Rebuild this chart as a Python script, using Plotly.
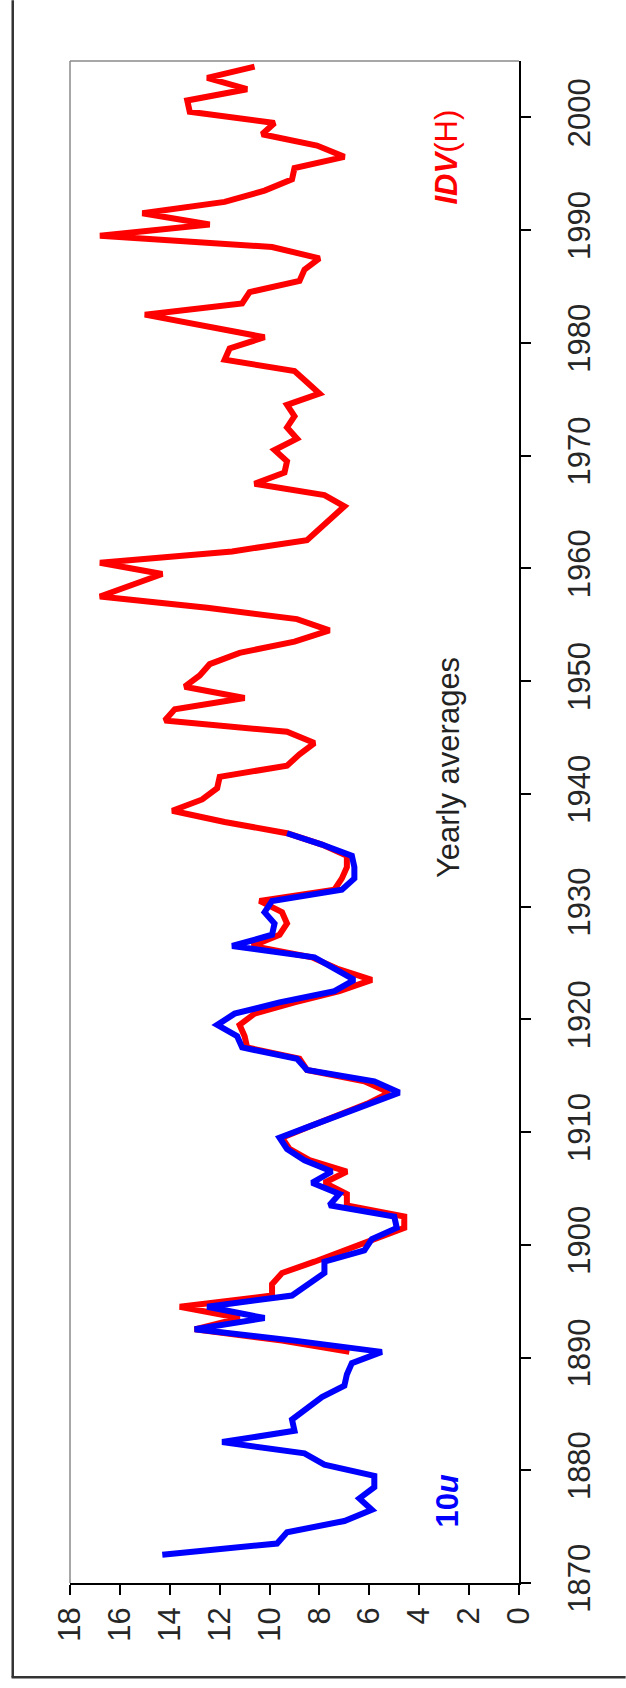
import plotly.graph_objects as go

# ---- data -------------------------------------------------------------
blue_start = 1872  # 10u series, yearly averages (plotted at mid-year)
blue_vals = [14.3, 9.7, 9.3, 7.0, 5.9, 6.4, 5.8, 5.8, 7.8, 8.6,
             11.9, 9.0, 9.1, 8.5, 7.9, 7.0, 6.9, 6.7, 5.5, 9.0,
             13.0, 10.2, 12.5, 9.1, 8.4, 7.8, 7.8, 6.2, 5.9, 4.9,
             5.0, 7.6, 7.2, 8.3, 7.5, 8.6, 9.3, 9.6, 8.4, 7.2,
             6.0, 4.8, 5.8, 8.5, 8.9, 11.1, 11.3, 12.1, 11.4, 9.6,
             7.4, 6.6, 7.4, 8.2, 11.5, 9.9, 9.8, 10.2, 9.9, 7.1,
             6.6, 6.6, 6.7, 7.9, 9.3]

red_start = 1890  # IDV(H) series
red_vals = [6.8, 9.5, 13.0, 11.2, 13.6, 9.9, 9.9, 9.5, 8.2, 7.0,
            5.9, 4.6, 4.6, 6.9, 6.9, 7.8, 6.9, 8.4, 9.2, 9.5,
            8.4, 7.2, 6.1, 5.2, 6.2, 8.5, 8.8, 10.9, 11.0, 11.2,
            10.6, 9.0, 7.2, 5.9, 7.3, 8.3, 10.7, 9.6, 9.3, 9.5,
            10.4, 7.4, 7.1, 6.9, 6.9, 7.9, 9.3, 11.8, 13.9, 12.7,
            12.1, 12.0, 9.3, 8.8, 8.2, 9.3, 14.2, 13.8, 11.0, 13.4,
            12.8, 12.4, 11.2, 9.0, 7.6, 8.9, 12.5, 16.8, 15.5, 14.3,
            16.8, 11.5, 8.5, 8.0, 7.5, 7.0, 7.8, 10.6, 9.4, 9.3,
            9.8, 8.9, 9.3, 9.0, 9.3, 8.0, 8.5, 9.0, 11.8, 11.6,
            10.2, 12.7, 15.0, 11.1, 10.8, 8.8, 8.6, 8.0, 9.9, 16.8,
            12.4, 15.1, 11.8, 10.2, 9.1, 9.0, 7.0, 8.1, 10.3, 9.8,
            13.2, 13.3, 10.9, 12.5, 10.6]

blue_years = [blue_start + i + 0.5 for i in range(len(blue_vals))]
red_years = [red_start + i + 0.5 for i in range(len(red_vals))]

value_ticks = [0, 2, 4, 6, 8, 10, 12, 14, 16, 18]
year_ticks = [1870, 1880, 1890, 1900, 1910, 1920, 1930, 1940, 1950,
              1960, 1970, 1980, 1990, 2000]

# ---- figure -----------------------------------------------------------
W, H = 626, 1688
L, R, T, B = 70, 519.3, 60.7, 1582.7
FONT = "Liberation Sans, Arial, sans-serif"

fig = go.Figure()
fig.add_trace(go.Scatter(x=red_vals, y=red_years, mode="lines",
                         line=dict(color="#ff0000", width=6),
                         name="IDV(H)"))
fig.add_trace(go.Scatter(x=blue_vals, y=blue_years, mode="lines",
                         line=dict(color="#0000ff", width=6),
                         name="10u"))

axis_common = dict(showgrid=False, zeroline=False, showline=True,
                   linecolor="black", linewidth=1.5, ticks="outside",
                   ticklen=10, tickwidth=1.5, tickcolor="black",
                   tickangle=-90,
                   tickfont=dict(family=FONT, size=31, color="#262626"))

fig.update_xaxes(range=[18, 0], tickvals=value_ticks,
                 ticktext=[str(v) for v in value_ticks], **axis_common)
fig.update_yaxes(range=[1870, 2005], tickvals=year_ticks, side="right",
                 ticklabelstandoff=22, **axis_common)

pw, ph = R - L, B - T
def px(x):
    return (x - L) / pw
def py(y):
    return (B - y) / ph

shapes = [
    # gray frame top & left
    dict(type="line", xref="paper", yref="paper", x0=0, x1=1, y0=1, y1=1,
         line=dict(color="#8a8a8a", width=1.5)),
    dict(type="line", xref="paper", yref="paper", x0=0, x1=0, y0=0, y1=1,
         line=dict(color="#8a8a8a", width=1.5)),
    # outer frame (left & bottom)
    dict(type="line", xref="paper", yref="paper", x0=px(12.7), x1=px(12.7),
         y0=py(0), y1=py(1677), line=dict(color="#333", width=2.5)),
    dict(type="line", xref="paper", yref="paper", x0=px(11.5), x1=px(626),
         y0=py(1677), y1=py(1677), line=dict(color="#333", width=2.5)),
]

annotations = [
    dict(x=2.9, y=1996.5, xref="x", yref="y", showarrow=False,
         text="<b><i>IDV</i></b>(H)", textangle=-90,
         font=dict(family=FONT, size=31, color="#ff0000")),
    dict(x=2.8, y=1942.3, xref="x", yref="y", showarrow=False,
         text="Yearly averages", textangle=-90,
         font=dict(family=FONT, size=31, color="#222")),
    dict(x=2.85, y=1877.3, xref="x", yref="y", showarrow=False,
         text="<b>10<i>u</i></b>", textangle=-90,
         font=dict(family=FONT, size=31, color="#0000ff")),
]

fig.update_layout(width=W, height=H,
                  margin=dict(l=L, r=W - R, t=T, b=H - B, pad=0),
                  paper_bgcolor="white", plot_bgcolor="white",
                  showlegend=False, shapes=shapes, annotations=annotations)

fig.write_html("out.html")
